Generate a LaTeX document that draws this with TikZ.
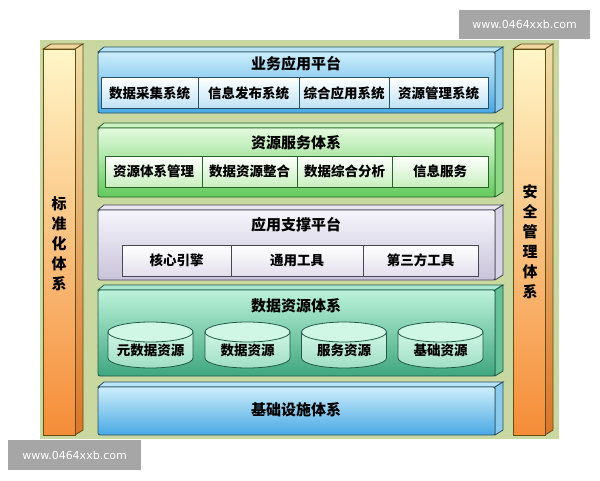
\documentclass[tikz,border=0pt]{standalone}
\usepackage{fontspec}
\newfontfamily\cjk{Noto Sans CJK SC}
\newfontfamily\wmfont{DejaVu Sans}

\definecolor{panelbg}{RGB}{200,216,160}
\definecolor{blueedge}{RGB}{40,80,100}
\definecolor{bluehi}{RGB}{205,238,251}
\definecolor{bluelo}{RGB}{72,168,228}
\definecolor{blueside}{RGB}{140,202,236}
\definecolor{bluelid}{RGB}{185,228,247}
\definecolor{bluecell}{RGB}{190,226,246}
\definecolor{greenedge}{RGB}{40,100,40}
\definecolor{greenhi}{RGB}{228,251,222}
\definecolor{greenlo}{RGB}{98,202,92}
\definecolor{greenside}{RGB}{140,216,132}
\definecolor{greenlid}{RGB}{205,242,195}
\definecolor{greencell}{RGB}{200,240,190}
\definecolor{lilacedge}{RGB}{70,70,85}
\definecolor{lilachi}{RGB}{246,245,251}
\definecolor{lilaclo}{RGB}{200,195,218}
\definecolor{lilacside}{RGB}{215,210,228}
\definecolor{lilaclid}{RGB}{232,230,241}
\definecolor{lilaccell}{RGB}{226,223,236}
\definecolor{tealedge}{RGB}{30,90,70}
\definecolor{tealhi}{RGB}{188,242,218}
\definecolor{teallo}{RGB}{62,166,126}
\definecolor{tealside}{RGB}{102,192,152}
\definecolor{teallid}{RGB}{172,232,207}
\definecolor{drumtop}{RGB}{208,246,230}
\definecolor{drumlo}{RGB}{160,222,196}
\definecolor{coledge}{RGB}{100,75,20}
\definecolor{colhi}{RGB}{255,246,200}
\definecolor{colmid}{RGB}{250,208,150}
\definecolor{collo}{RGB}{245,140,55}
\definecolor{colsidehi}{RGB}{238,222,168}
\definecolor{colsidelo}{RGB}{218,118,40}
\definecolor{collid}{RGB}{240,215,160}
\definecolor{wmgray}{RGB}{166,166,166}

\tikzset{
  slabfront/.style={draw=#1edge, line width=0.8pt, rounded corners=2pt,
    top color=#1hi, bottom color=#1lo},
  slabside/.style={draw=#1edge, line width=0.8pt, fill=#1side},
  slablid/.style={draw=#1edge, line width=0.8pt, fill=#1lid},
  cell/.style={draw=#1edge, line width=0.8pt, top color=white, bottom color=#1cell,
    minimum height=31pt, inner sep=0pt, outer sep=0pt},
  heading/.style={font=\cjk\fontsize{15}{18}\selectfont\bfseries},
  coltext/.style={align=center, font=\cjk\fontsize{15}{20}\selectfont\bfseries},
  wmbox/.style={fill=wmgray, text=white, inner sep=0pt,
    font=\wmfont\fontsize{11}{13}\selectfont}
}

\begin{document}
\begin{tikzpicture}[x=1pt,y=-1pt,font=\cjk\fontsize{13.5}{16}\selectfont\bfseries]
\useasboundingbox (0,0) rectangle (600,480);
\fill[panelbg] (40,40) rectangle (559,439);

% side columns
\foreach \xa in {43,513} {
  \draw[draw=coledge, line width=0.8pt, fill=collid]
    (\xa,49) -- (\xa+8,44) -- (\xa+40,44) -- (\xa+32,49) -- cycle;
  \draw[draw=coledge, line width=0.8pt, top color=colsidehi, bottom color=colsidelo]
    (\xa+32,49) -- (\xa+40,44) -- (\xa+40,430) -- (\xa+32,435) -- cycle;
  \draw[draw=coledge, line width=0.8pt, top color=colhi, middle color=colmid, bottom color=collo]
    (\xa,49) rectangle (\xa+32,435);
}
\node[coltext] (stdsys) at (59,244) {标\\准\\化\\体\\系};
\node[coltext] (secsys) at (530,242) {安\\全\\管\\理\\体\\系};

% layers
\foreach \ya/\yb/\kind in {52/113/blue, 128/197/green, 210/280/lilac, 290/376/teal, 387/435/blue} {
  \draw[slablid=\kind] (98,\ya) -- (104,\ya-5) -- (503,\ya-5) -- (495,\ya) -- cycle;
  \draw[slabside=\kind] (495,\ya) -- (503,\ya-5) -- (503,\yb-5) -- (495,\yb) -- cycle;
  \draw[slabfront=\kind] (98,\ya) rectangle (495,\yb);
}

% business platform
\node[heading] (bizplat) at (296,64) {业务应用平台};
\node[cell=blue, minimum width=97pt] (collect) at (149.5,93) {数据采集系统};
\node[cell=blue, minimum width=101pt] (publish) at (248.5,93) {信息发布系统};
\node[cell=blue, minimum width=90pt] (integ) at (344,93) {综合应用系统};
\node[cell=blue, minimum width=99pt] (resmgmt) at (438.5,93) {资源管理系统};

% resource services
\node[heading] (ressvc) at (296,143) {资源服务体系};
\node[cell=green, minimum width=97pt] (sysmgmt) at (153.5,171.5) {资源体系管理};
\node[cell=green, minimum width=95pt] (merge) at (249.5,171.5) {数据资源整合};
\node[cell=green, minimum width=95pt] (analyse) at (344.5,171.5) {数据综合分析};
\node[cell=green, minimum width=96pt] (infosvc) at (440,171.5) {信息服务};

% support platform
\node[heading] (support) at (296,225) {应用支撑平台};
\node[cell=lilac, minimum width=109pt] (engine) at (176.5,260.5) {核心引擎};
\node[cell=lilac, minimum width=132pt] (tools) at (297,260.5) {通用工具};
\node[cell=lilac, minimum width=115pt] (thirdp) at (420.5,260.5) {第三方工具};

% data resources
\node[heading] (datares) at (296,306) {数据资源体系};
\foreach \cx/\nm/\txt in {150.5/metares/元数据资源, 247.5/datapool/数据资源, 344/svcres/服务资源, 440.5/baseres/基础资源} {
  \draw[draw=tealedge, line width=0.8pt, top color=drumtop, bottom color=drumlo]
    (\cx-42.5,332) -- (\cx-42.5,358) arc[start angle=180, end angle=0, x radius=42.5, y radius=10]
    -- (\cx+42.5,332) -- cycle;
  \draw[draw=tealedge, line width=0.8pt, fill=drumtop] (\cx,332) ellipse [x radius=42.5, y radius=10];
  \node (\nm) at (\cx,350) {\txt};
}

% infrastructure
\node[heading] (infra) at (296,410) {基础设施体系};

% watermarks
\node[wmbox, minimum width=131pt, minimum height=29pt] (wmtop) at (524.5,24.5) {www.0464xxb.com};
\node[wmbox, minimum width=133pt, minimum height=30pt] (wmbot) at (74.5,455) {www.0464xxb.com};
\end{tikzpicture}
\end{document}
